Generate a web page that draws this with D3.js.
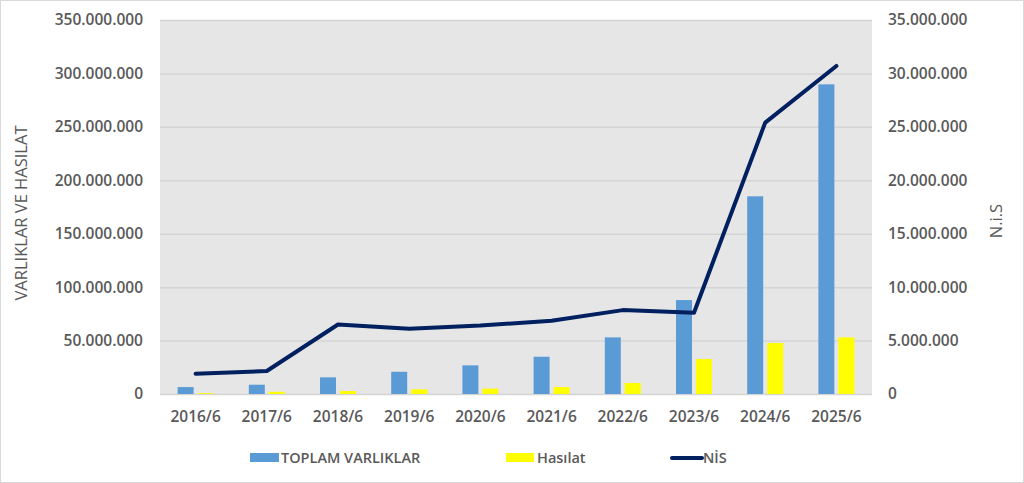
<!DOCTYPE html>
<html>
<head>
<meta charset="utf-8">
<script src="https://cdn.jsdelivr.net/npm/d3@7"></script>
<style>
  html, body { margin: 0; padding: 0; background: #fff; }
  svg text { font-family: "Open Sans", "Liberation Sans", sans-serif; fill: #595959; }
</style>
</head>
<body>
<div id="chart"></div>
<script>
const w = 1024, h = 483;

const years = ["2016/6","2017/6","2018/6","2019/6","2020/6","2021/6","2022/6","2023/6","2024/6","2025/6"];
const varliklar = [6500000, 8700000, 15600000, 20800000, 26800000, 34900000, 53000000, 87900000, 185000000, 289800000];
const hasilat = [800000, 2100000, 2800000, 4400000, 5000000, 6500000, 10300000, 32700000, 47700000, 53000000];
const nis = [1900000, 2150000, 6500000, 6100000, 6400000, 6850000, 7850000, 7600000, 25400000, 30700000];
const leftTicks = d3.range(0, 350000001, 50000000);
const rightTicks = d3.range(0, 35000001, 5000000);

const m = {left: 160, right: 152, top: 20, bottom: 89};
const iw = w - m.left - m.right, ih = h - m.top - m.bottom;

const svg = d3.select("#chart").append("svg")
	.attr("width", w).attr("height", h)
	.attr("viewBox", "0 0 " + w + " " + h);

svg.append("rect").attr("x", 0.5).attr("y", 0.5).attr("width", w - 1).attr("height", h - 1)
	.style("fill", "#fff").style("stroke", "#d9d9d9");

const g = svg.append("g").attr("transform", "translate(" + m.left + "," + m.top + ")");

const x = d3.scaleBand().domain(years).range([0, iw]);
const yL = d3.scaleLinear().domain([0, 350000000]).range([ih, 0]);
const yR = d3.scaleLinear().domain([0, 35000000]).range([ih, 0]);

const fmt = v => d3.format(",")(v).replace(/,/g, ".");

g.append("rect").attr("width", iw).attr("height", ih).style("fill", "#e7e6e6");

g.selectAll(null).data(leftTicks).enter().append("line")
	.attr("x1", 0).attr("x2", iw)
	.attr("y1", d => yL(d) + 0.5).attr("y2", d => yL(d) + 0.5)
	.style("stroke", "#d4d4d4").style("stroke-width", 1.5);

// left axis
const axL = g.append("g").call(d3.axisLeft(yL).tickValues(leftTicks).tickFormat(fmt).tickSize(0).tickPadding(17));
axL.select(".domain").remove();
axL.selectAll("text").style("font-size", "15.5px").style("font-weight", 600).style("fill", "#595959");

// right axis
const axR = g.append("g").attr("transform", "translate(" + iw + ",0)")
	.call(d3.axisRight(yR).tickValues(rightTicks).tickFormat(fmt).tickSize(0).tickPadding(16));
axR.select(".domain").remove();
axR.selectAll("text").style("font-size", "15.5px").style("font-weight", 600).style("fill", "#595959");

// x axis
const axX = g.append("g").attr("transform", "translate(0," + ih + ")")
	.call(d3.axisBottom(x).tickSize(0).tickPadding(17));
axX.select(".domain").remove();
axX.selectAll("text").style("font-size", "15.5px").style("font-weight", 600).style("fill", "#595959");

const bw = 16, gap = 4;
g.selectAll(null).data(varliklar).enter().append("rect")
	.attr("x", (d, i) => x(years[i]) + x.bandwidth() / 2 - gap / 2 - bw)
	.attr("y", d => yL(d)).attr("width", bw).attr("height", d => ih - yL(d))
	.style("fill", "#5b9bd5");

g.selectAll(null).data(hasilat).enter().append("rect")
	.attr("x", (d, i) => x(years[i]) + x.bandwidth() / 2 + gap / 2)
	.attr("y", d => yL(d)).attr("width", bw).attr("height", d => ih - yL(d))
	.style("fill", "#ffff00");

const line = d3.line()
	.x((d, i) => x(years[i]) + x.bandwidth() / 2)
	.y(d => yR(d));
g.append("path").datum(nis).attr("d", line)
	.style("fill", "none").style("stroke", "#002060").style("stroke-width", 4)
	.style("stroke-linejoin", "round").style("stroke-linecap", "round");

// axis titles
svg.append("text").attr("transform", "translate(27,213) rotate(-90)")
	.attr("text-anchor", "middle").style("font-size", "16.5px").text("VARLIKLAR VE HASILAT");
svg.append("text").attr("transform", "translate(1002,221) rotate(-90)")
	.attr("text-anchor", "middle").style("font-size", "16.5px").text("N.i.S");

// legend
const leg = svg.append("g").attr("transform", "translate(0,458)");
leg.append("rect").attr("x", 250).attr("y", -5).attr("width", 29).attr("height", 9).style("fill", "#5b9bd5");
leg.append("text").attr("x", 281).attr("y", 0).attr("dy", "0.35em")
	.style("font-size", "14.5px").style("font-weight", 600).text("TOPLAM VARLIKLAR");
leg.append("rect").attr("x", 506).attr("y", -5).attr("width", 28).attr("height", 9).style("fill", "#ffff00");
leg.append("text").attr("x", 537).attr("y", 0).attr("dy", "0.35em")
	.style("font-size", "14.5px").style("font-weight", 600).text("Hasılat");
leg.append("line").attr("x1", 672).attr("x2", 702).attr("y1", 0).attr("y2", 0)
	.style("stroke", "#002060").style("stroke-width", 4).style("stroke-linecap", "round");
leg.append("text").attr("x", 703).attr("y", 0).attr("dy", "0.35em")
	.style("font-size", "14.5px").style("font-weight", 600).text("NİS");
</script>
</body>
</html>
